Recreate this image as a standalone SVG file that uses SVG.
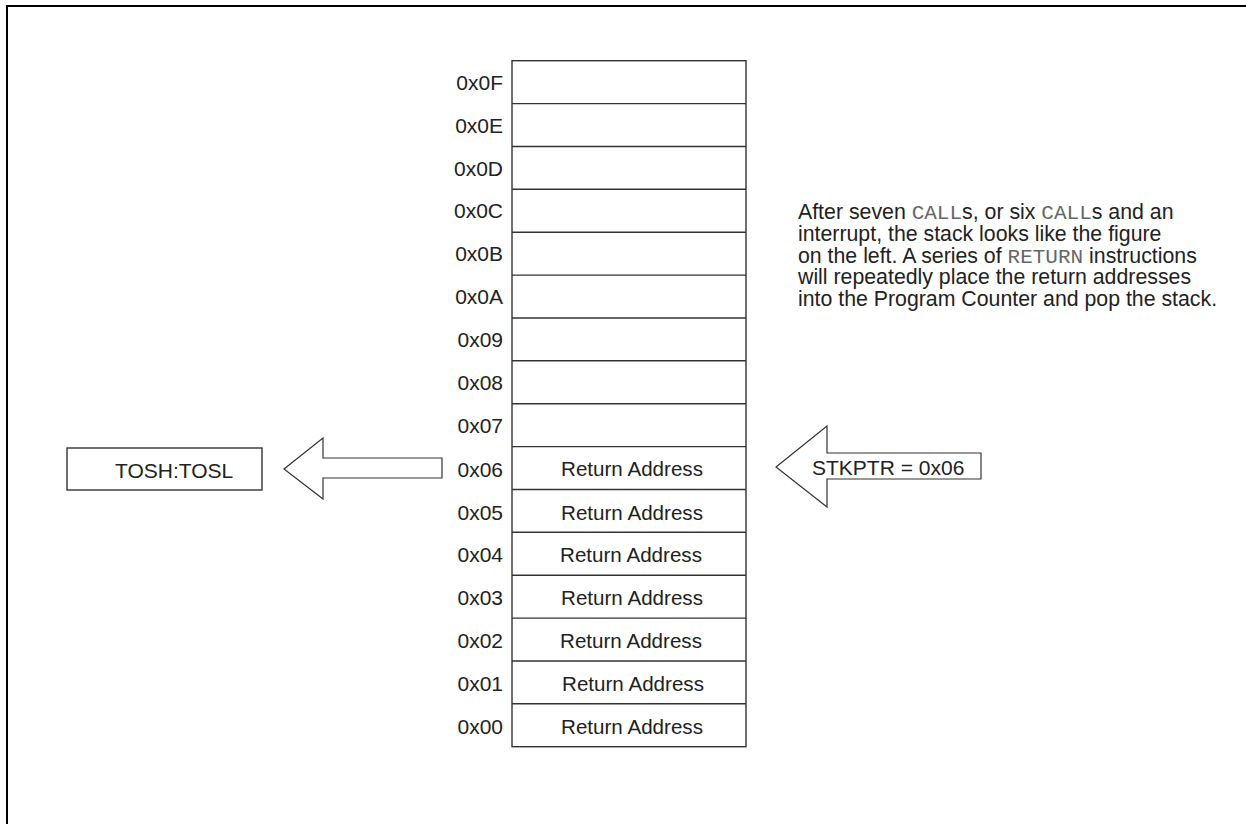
<svg xmlns="http://www.w3.org/2000/svg" width="1246" height="824" viewBox="0 0 1246 824">
<style>
.t{font-family:"Liberation Sans",Arial,sans-serif;font-size:21px;fill:#222}
.p{font-size:21.3px}
.lbl{text-anchor:end}
.ra{text-anchor:middle;font-size:20.6px}
.m{font-family:"Liberation Mono","Courier New",monospace;font-size:21px;fill:#666}
.ln{fill:none;stroke:#333;stroke-width:1.4}
.ar{fill:#fff;stroke:#333;stroke-width:1.2;stroke-linejoin:miter}
</style>
<rect width="1246" height="824" fill="#fff"/>
<path d="M7,824 V6 H1246" fill="none" stroke="#000" stroke-width="2"/>
<g id="stack">
<rect class="ln" x="512" y="60.7" width="234" height="686" fill="#fff"/>
<path class="ln" d="M512,103.6H746M512,146.5H746M512,189.3H746M512,232.2H746M512,275.1H746M512,318H746M512,360.8H746M512,403.7H746M512,446.6H746M512,489.5H746M512,532.3H746M512,575.2H746M512,618.1H746M512,661H746M512,703.8H746"/>
<text class="t lbl" x="503" y="89.7">0x0F</text>
<text class="t lbl" x="503" y="132.6">0x0E</text>
<text class="t lbl" x="503" y="175.5">0x0D</text>
<text class="t lbl" x="503" y="218.3">0x0C</text>
<text class="t lbl" x="503" y="261.2">0x0B</text>
<text class="t lbl" x="503" y="304.1">0x0A</text>
<text class="t lbl" x="503" y="347">0x09</text>
<text class="t lbl" x="503" y="389.8">0x08</text>
<text class="t lbl" x="503" y="432.7">0x07</text>
<text class="t lbl" x="503" y="476.6">0x06</text>
<text class="t lbl" x="503" y="519.5">0x05</text>
<text class="t lbl" x="503" y="562.3">0x04</text>
<text class="t lbl" x="503" y="605.2">0x03</text>
<text class="t lbl" x="503" y="648.1">0x02</text>
<text class="t lbl" x="503" y="691">0x01</text>
<text class="t lbl" x="503" y="733.8">0x00</text>
<text class="t ra" x="632" y="476">Return Address</text>
<text class="t ra" x="632" y="519.5">Return Address</text>
<text class="t ra" x="631" y="562.3">Return Address</text>
<text class="t ra" x="632" y="605.2">Return Address</text>
<text class="t ra" x="631" y="648.1">Return Address</text>
<text class="t ra" x="633" y="691">Return Address</text>
<text class="t ra" x="632" y="733.8">Return Address</text>
</g>
<g id="tos">
<rect class="ln" x="67" y="448" width="195" height="42" fill="#fff"/>
<text class="t" x="115" y="478">TOSH:TOSL</text>
</g>
<g id="connectors">
<polygon class="ar" points="284,469 323,438 323,458 442,458 442,478 323,478 323,499"/>
<polygon class="ar" points="776,467 827,426 827,453 981,453 981,479 827,479 827,507"/>
</g>
<g id="stkptr">
<text class="t" x="812" y="475">STKPTR = 0x06</text>
</g>
<g id="note">
<text class="t p" x="798" y="219">After seven <tspan class="m">CALL</tspan>s, or six <tspan class="m">CALL</tspan>s and an</text>
<text class="t p" x="798" y="241">interrupt, the stack looks like the figure</text>
<text class="t p" x="798" y="262.5">on the left. A series of <tspan class="m">RETURN</tspan> instructions</text>
<text class="t p" x="798" y="284">will repeatedly place the return addresses</text>
<text class="t p" x="798" y="305.5">into the Program Counter and pop the stack.</text>
</g>
</svg>
